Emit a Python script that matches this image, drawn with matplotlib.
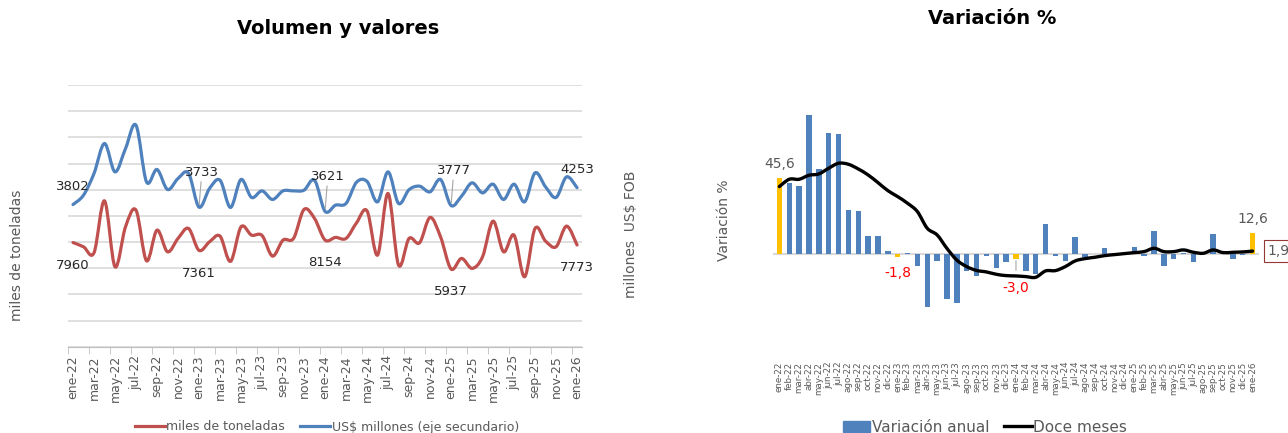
import matplotlib
matplotlib.use("Agg")
import matplotlib.pyplot as plt
from matplotlib.path import Path
from matplotlib.patches import PathPatch, Patch
from matplotlib.lines import Line2D

# ---- data ----
month_names = ["ene", "feb", "mar", "abr", "may", "jun", "jul", "ago", "sep", "oct", "nov", "dic"]
periods = [f"{m}-{y}" for y in range(22, 26) for m in month_names] + ["ene-26"]

# miles de toneladas (eje principal)
toneladas = [7960, 7634, 7176, 11146, 6107, 9161, 10436, 6565, 8909, 7252, 8275, 9039,
             7361, 8016, 8451, 6520, 9161, 8527, 8500, 6924, 8145, 8275, 10489, 9802,
             8154, 8352, 8275, 9466, 10382, 7000, 11711, 6237, 8275, 7939, 9878, 8397,
             5937, 6748, 5985, 6871, 9596, 7252, 8527, 5344, 9039, 8069, 7634, 9214,
             7773]
# US$ millones (eje secundario)
usd = [3802, 4053, 4633, 5435, 4676, 5300, 5924, 4409, 4740, 4205, 4499, 4640,
       3733, 4232, 4454, 3725, 4473, 3992, 4168, 3938, 4168, 4168, 4187, 4454,
       3621, 3786, 3832, 4400, 4420, 3874, 4676, 3832, 4200, 4294, 4142, 4473,
       3777, 4027, 4383, 4115, 4347, 3938, 4347, 3874, 4650, 4276, 3992, 4543,
       4253]
labeled_periods = ["ene-22", "ene-23", "ene-24", "ene-25", "ene-26"]

# Variacion % (anual) y doce meses
var_anual = [45.6, 43.0, 41.0, 83.6, 51.0, 72.6, 72.0, 26.6, 26.0, 11.0, 11.0, 2.2,
             -1.8, 0.6, -6.8, -31.4, -3.9, -27.0, -29.0, -10.2, -13.0, -1.2, -8.2, -4.4,
             -3.0, -10.2, -12.0, 18.2, -1.2, -3.8, 10.6, -1.4, 0.3, 3.6, -0.8, 0.3,
             4.4, -1.3, 14.0, -7.0, -2.8, 0.5, -4.8, 0.3, 12.2, 0.4, -2.8, -0.5,
             12.6]
doce_meses = [40.6, 45.0, 45.0, 47.4, 48.2, 51.6, 54.6, 54.0, 51.2, 47.6, 43.0, 38.2,
              34.6, 30.6, 25.6, 15.6, 11.6, 3.5, -3.5, -7.4, -9.7, -10.6, -12.0, -12.8,
              -13.0, -13.4, -13.8, -10.0, -9.8, -7.4, -4.0, -2.6, -1.8, -0.8, -0.2, 0.4,
              1.0, 1.6, 3.6, 1.6, 1.6, 2.6, 1.2, 0.6, 2.6, 1.0, 1.2, 1.4,
              1.9]
highlight = ["ene-22", "ene-23", "ene-24", "ene-26"]

RED = "#C0504D"
BLUE = "#4F81BD"
YELLOW = "#FFC000"
GRID = "#D9D9D9"
TXT = "#595959"


def smooth_path(xs, ys, t=1 / 6):
    # excel-like smoothed line (catmull-rom through the points, as bezier)
    n = len(xs)
    verts = [(xs[0], ys[0])]
    codes = [Path.MOVETO]
    for i in range(n - 1):
        x0, y0 = xs[max(i - 1, 0)], ys[max(i - 1, 0)]
        x1, y1 = xs[i], ys[i]
        x2, y2 = xs[i + 1], ys[i + 1]
        x3, y3 = xs[min(i + 2, n - 1)], ys[min(i + 2, n - 1)]
        verts += [(x1 + (x2 - x0) * t, y1 + (y2 - y0) * t),
                  (x2 - (x3 - x1) * t, y2 - (y3 - y1) * t),
                  (x2, y2)]
        codes += [Path.CURVE4] * 3
    return Path(verts, codes)


x = list(range(len(periods)))

fig = plt.figure(figsize=(12.88, 4.33), dpi=100)

# ---------------- left chart: Volumen y valores ----------------
ax = fig.add_axes([0.0526, 0.1993, 0.3995, 0.6044])
ax2 = ax.twinx()

ax.add_patch(PathPatch(smooth_path(x, toneladas), fill=False, edgecolor=RED, lw=2.3,
                       capstyle="round", joinstyle="round"))
ax2.add_patch(PathPatch(smooth_path(x, usd), fill=False, edgecolor=BLUE, lw=2.3,
                        capstyle="round", joinstyle="round"))

ax.set_xlim(-0.5, 48.5)
ax.set_ylim(0, 20000)
ax2.set_ylim(0, 7000)
ax.set_yticks(range(0, 20001, 2000))
ax.yaxis.grid(True, color=GRID, lw=1.2)
ax.set_axisbelow(True)
ax.tick_params(axis="y", length=0, labelleft=False)
ax2.tick_params(axis="y", length=0, labelright=False)
for a in (ax, ax2):
    for s in a.spines.values():
        s.set_visible(False)
ax.spines["bottom"].set_visible(True)
ax.spines["bottom"].set_color("#BFBFBF")

ax.set_xticks(x[::2])
ax.set_xticklabels(periods[::2], rotation=90, fontsize=9, color=TXT)
ax.set_xticks([i - 0.5 for i in x[::2]], minor=True)
ax.tick_params(axis="x", which="major", length=0, pad=6)
ax.tick_params(axis="x", which="minor", length=5, color="#BFBFBF")

for p in labeled_periods:
    i = periods.index(p)
    up = 13 if p in ("ene-22", "ene-26") else 25
    arrow = None if p in ("ene-22", "ene-26") else dict(arrowstyle="-", color="#A6A6A6", lw=0.8,
                                                        shrinkA=0, shrinkB=2)
    ax2.annotate(str(usd[i]), xy=(i, usd[i]), xytext=(2 if arrow else 0, up),
                 textcoords="offset points", ha="center", va="center",
                 fontsize=9.5, color="#262626", arrowprops=arrow)
    ax.annotate(str(toneladas[i]), xy=(i, toneladas[i]), xytext=(0, -16.5),
                textcoords="offset points", ha="center", va="center",
                fontsize=9.5, color="#262626")

fig.text(338 / 1288, 1 - 28 / 433, "Volumen y valores", ha="center", va="center",
         fontsize=14, fontweight="bold", color="black")
fig.text(17 / 1288, 1 - 255 / 433, "miles de toneladas", rotation=90, ha="center",
         va="center", fontsize=10, color=TXT)
fig.text(631 / 1288, 1 - 234 / 433, "millones  US$ FOB", rotation=90, ha="center",
         va="center", fontsize=10, color=TXT)

fig.legend(handles=[Line2D([], [], color=RED, lw=2.3),
                    Line2D([], [], color=BLUE, lw=2.3)],
           labels=["miles de toneladas", "US$ millones (eje secundario)"],
           loc="center", bbox_to_anchor=(327 / 1288, 1 - 427 / 433), ncol=2,
           frameon=False, fontsize=9, handlelength=2.4, handletextpad=0.15,
           columnspacing=1.2, labelcolor=TXT)

# ---------------- right chart: Variacion % ----------------
bx = fig.add_axes([0.6005, 0.1741, 0.3766, 0.7083])
bar_colors = [YELLOW if p in highlight else BLUE for p in periods]
bx.bar(x, var_anual, width=0.55, color=bar_colors, zorder=2)
bx.axhline(0, color=GRID, lw=1.5, zorder=1)
bx.add_patch(PathPatch(smooth_path(x, doce_meses), fill=False, edgecolor="black", lw=2.4,
                       zorder=3, capstyle="round", joinstyle="round"))
bx.set_xlim(-0.6, 48.6)
bx.set_ylim(-62, 122)
bx.set_yticks([])
for s in bx.spines.values():
    s.set_visible(False)
bx.set_xticks(x)
bx.set_xticklabels(periods, rotation=90, fontsize=6.3, color=TXT)
bx.tick_params(axis="x", length=0, pad=3)

for p in highlight:
    i = periods.index(p)
    v = var_anual[i]
    lab = f"{v:.1f}".replace(".", ",")
    if v >= 0:
        bx.annotate(lab, xy=(i, v), xytext=(0, 10), textcoords="offset points",
                    ha="center", va="center", fontsize=10, color=TXT)
    elif p == "ene-24":
        bx.annotate(lab, xy=(i, v), xytext=(0, -21), textcoords="offset points",
                    ha="center", va="center", fontsize=10, color="#FF0000",
                    arrowprops=dict(arrowstyle="-", color="#A6A6A6", lw=0.8,
                                    shrinkA=6, shrinkB=1))
    else:
        bx.annotate(lab, xy=(i, v), xytext=(0, -11), textcoords="offset points",
                    ha="center", va="center", fontsize=10, color="#FF0000")

last = len(periods) - 1
bx.annotate(f"{doce_meses[last]:.1f}".replace(".", ","), xy=(last, doce_meses[last]),
            xytext=(11, 0), textcoords="offset points", ha="left", va="center",
            fontsize=10, color=TXT, annotation_clip=False,
            bbox=dict(boxstyle="square,pad=0.3", fc="white", ec="#953735", lw=0.8))

fig.text(992 / 1288, 1 - 18 / 433, "Variación %", ha="center", va="center",
         fontsize=14, fontweight="bold", color="black")
fig.text(724 / 1288, 1 - 220 / 433, "Variación %", rotation=90, ha="center",
         va="center", fontsize=10, color=TXT)

fig.legend(handles=[Patch(color=BLUE), Line2D([], [], color="black", lw=2.4)],
           labels=["Variación anual", "Doce meses"],
           loc="center", bbox_to_anchor=(985 / 1288, 1 - 427 / 433), ncol=2,
           frameon=False, fontsize=11, handlelength=1.8, handletextpad=0.1,
           columnspacing=1.0, labelcolor=TXT)

fig.savefig("out.png", dpi=100)
